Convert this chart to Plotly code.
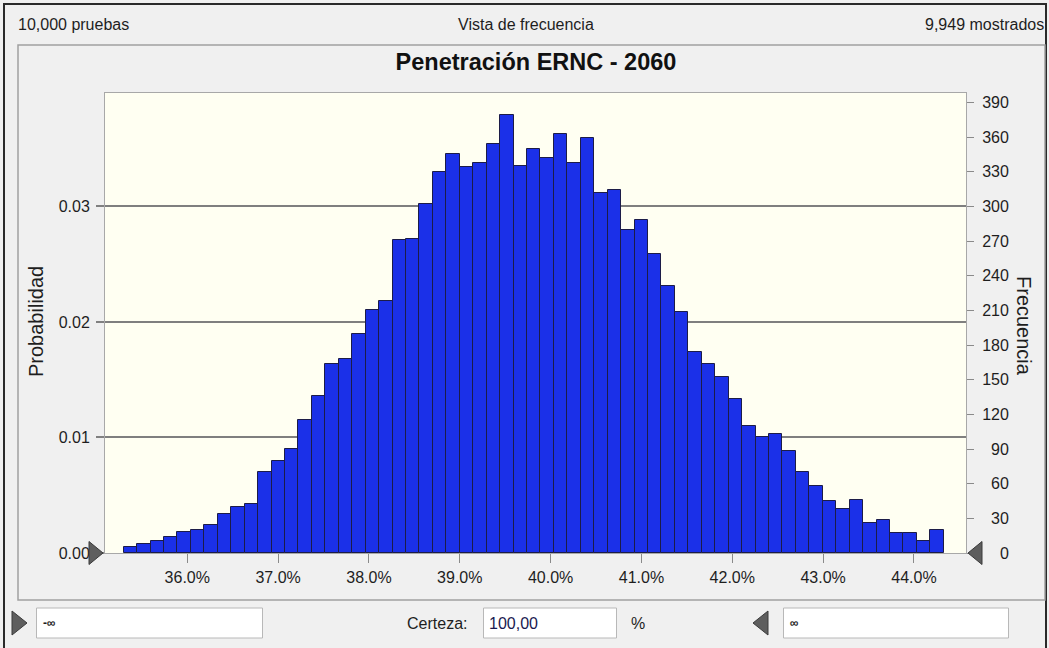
import plotly.graph_objects as go

# Forecast histogram: Penetración ERNC - 2060
trials = 10000
shown = 9949
bin_start = 35.30          # left edge of first bin (%)
bin_width = 0.148          # bin width (%)
counts = [5, 8, 10, 14, 18, 20, 24, 34, 40, 42,
          70, 80, 90, 115, 136, 164, 168, 190, 210, 218,
          271, 272, 302, 330, 345, 334, 338, 354, 379, 335,
          350, 342, 363, 338, 359, 312, 314, 280, 288, 259,
          231, 209, 174, 164, 152, 133, 110, 100, 103, 88,
          70, 58, 45, 38, 46, 26, 29, 17, 17, 10, 20]
x_ticks = [36, 37, 38, 39, 40, 41, 42, 43, 44]
freq_ticks = list(range(0, 391, 30))
prob_ticks = [0.00, 0.01, 0.02, 0.03]
freq_max = 398.2
x_range = [35.094, 44.573]

centers = [bin_start + bin_width * (i + 0.5) for i in range(len(counts))]
probs = [c / trials for c in counts]

W, H = 1049, 648
L, R, T, B = 105, 966, 93, 553   # plot area in pixels


def px(x):
    return (x - L) / (R - L)


def py(y):
    return (B - y) / (B - T)


FONT = "Liberation Sans, Arial, sans-serif"
TXT = "#1e1e1e"

fig = go.Figure()
# probability axis carrier (same histogram expressed as probability, not drawn)
fig.add_trace(go.Scatter(
    x=centers, y=probs, mode="markers", yaxis="y",
    marker=dict(opacity=0), hoverinfo="skip",
))
fig.add_trace(go.Bar(
    x=centers, y=counts, width=bin_width, yaxis="y2",
    marker=dict(color="#1b30e8", line=dict(color="#1c1c48", width=1)),
    hoverinfo="x+y",
))

fig.update_layout(
    width=W, height=H,
    margin=dict(l=L, r=W - R, t=T, b=H - B, pad=0),
    paper_bgcolor="#f0f0f0",
    plot_bgcolor="#fffff2",
    showlegend=False,
    bargap=0,
    font=dict(family=FONT, size=16, color=TXT),
    title=dict(text="<b>Penetración ERNC - 2060</b>", x=536 / W, xanchor="center",
               y=1 - 62 / H, yanchor="middle", yref="container",
               font=dict(family=FONT, size=23.5, color="#111111")),
    xaxis=dict(range=x_range, tickvals=x_ticks,
               ticktext=[f"{v:.1f}%" for v in x_ticks],
               ticks="outside", ticklen=9, tickcolor="#8a8a8a", tickwidth=1,
               showgrid=False, zeroline=False,
               showline=True, mirror=True, linecolor="#a8a8a8", linewidth=1,
               ticklabelstandoff=1,
               tickfont=dict(size=16, color=TXT)),
    yaxis=dict(range=[0, freq_max / trials], tickvals=prob_ticks,
               tickformat=".2f", ticks="outside", ticklen=8,
               tickcolor="#808080", tickwidth=1.5,
               showgrid=True, gridcolor="#7f7f7f", gridwidth=1.5,
               zeroline=False, showline=True, mirror=True,
               linecolor="#a8a8a8", linewidth=1,
               ticklabelstandoff=3,
               tickfont=dict(size=16, color=TXT)),
    yaxis2=dict(range=[0, freq_max], overlaying="y", side="right",
                tickvals=freq_ticks,
                ticktext=[f"{v:>3}".replace(" ", "\u2007") for v in freq_ticks],
                ticks="outside", ticklen=7, tickcolor="#8a8a8a", tickwidth=1,
                showgrid=False, zeroline=False, showline=False,
                ticklabelstandoff=5,
                tickfont=dict(size=16, color=TXT)),
)

shapes = []
# outer window frame and inner chart panel
shapes.append(dict(type="rect", xref="paper", yref="paper",
                   x0=px(4), x1=px(1046), y0=py(4), y1=py(700),
                   line=dict(color="#2a2a2a", width=2), layer="below"))
shapes.append(dict(type="rect", xref="paper", yref="paper",
                   x0=px(18), x1=px(1045), y0=py(45), y1=py(600),
                   line=dict(color="#a0a0a0", width=1.5), layer="below"))

# threshold grabbers on the chart baseline
grab_fill = "#5e5e5e"
grab_line = "#3a3a3a"
shapes.append(dict(type="path", xref="paper", yref="paper",
                   xsizemode="pixel", ysizemode="pixel", xanchor=0, yanchor=0,
                   path="M-16,-11.5 L-2,0 L-16,11.5 Z",
                   fillcolor=grab_fill, line=dict(color=grab_line, width=1)))
shapes.append(dict(type="path", xref="paper", yref="paper",
                   xsizemode="pixel", ysizemode="pixel", xanchor=1, yanchor=0,
                   path="M16,-11.5 L2,0 L16,11.5 Z",
                   fillcolor=grab_fill, line=dict(color=grab_line, width=1)))

# bottom control strip: grabbers and text boxes
for x0, x1 in [(36.5, 262.5), (483.5, 616.5), (783.5, 1008.5)]:
    shapes.append(dict(type="rect", xref="paper", yref="paper",
                       x0=px(x0), x1=px(x1), y0=py(608), y1=py(638),
                       fillcolor="#ffffff", line=dict(color="#b8b8b8", width=1)))
shapes.append(dict(type="path", xref="paper", yref="paper",
                   path=f"M{px(12)},{py(611)} L{px(27)},{py(623)} L{px(12)},{py(635)} Z",
                   fillcolor=grab_fill, line=dict(color=grab_line, width=1)))
shapes.append(dict(type="path", xref="paper", yref="paper",
                   path=f"M{px(768)},{py(611)} L{px(753)},{py(623)} L{px(768)},{py(635)} Z",
                   fillcolor=grab_fill, line=dict(color=grab_line, width=1)))
fig.update_layout(shapes=shapes)


def label(text, x, y, anchor="left", size=16, color=TXT, angle=0):
    fig.add_annotation(text=text, xref="paper", yref="paper", x=px(x), y=py(y),
                       xanchor=anchor, yanchor="middle", showarrow=False,
                       textangle=angle, font=dict(family=FONT, size=size, color=color))


label(f"{trials:,} pruebas", 16, 25, "left", 16)
label("Vista de frecuencia", 526, 25, "center", 16)
label(f"{shown:,} mostrados", 1046, 25, "right", 16)
label("Probabilidad", 36, 322, "center", 20, angle=-90)
label("Frecuencia", 1024, 326, "center", 20, angle=90)
label("<b>-\u221e</b>", 41, 623, "left", 12)
label("Certeza:", 469, 623, "right", 16)
label("100,00", 487, 623, "left", 16, color="#1a1a50")
label("%", 638, 623, "center", 16)
label("<b>\u221e</b>", 788, 623, "left", 12)

fig.write_html("out.html")
